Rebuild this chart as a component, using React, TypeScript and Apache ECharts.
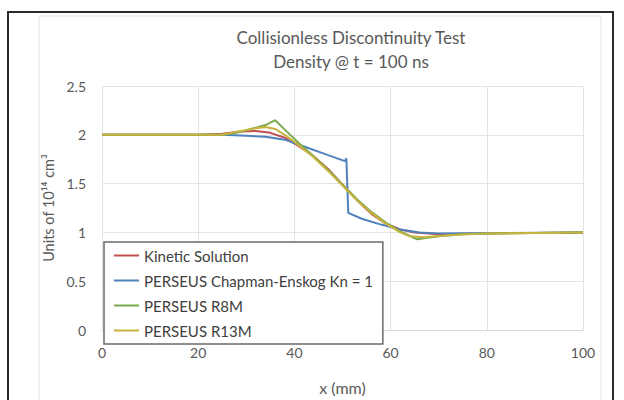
import React, { useEffect, useRef } from "react";
import * as echarts from "echarts";

const titleLines = ["Collisionless Discontinuity Test", "Density @ t = 100 ns"];
const xTitle = "x (mm)";
const yTitle = "Units of 10\u00B9\u2074 cm\u00B3";
const seriesNames = [
  "Kinetic Solution",
  "PERSEUS Chapman-Enskog Kn = 1",
  "PERSEUS R8M",
  "PERSEUS R13M",
];
const seriesColors = ["#C0504D", "#4F81BD", "#7BAA4C", "#C6B43E"];

const kineticX = [0, 20, 25, 28, 32, 35, 38, 41, 44, 47, 50, 53, 56, 59, 62, 65, 70, 80, 100];
const kineticY = [2.0, 2.0, 2.01, 2.03, 2.04, 2.02, 1.97, 1.88, 1.78, 1.65, 1.49, 1.33, 1.19, 1.09, 1.03, 1.0, 0.98, 0.99, 1.0];

const chapmanX = [0, 25, 30, 34, 38, 42, 46, 50.5, 50.8, 51.2, 54, 58, 62, 66, 70, 100];
const chapmanY = [2.0, 2.0, 1.99, 1.98, 1.95, 1.88, 1.81, 1.73, 1.76, 1.2, 1.14, 1.08, 1.03, 1.0, 0.99, 1.0];

const r8mX = [0, 25, 28, 31, 34, 36, 38.5, 41, 44, 47, 50, 53, 56, 59, 62, 65.5, 70, 75, 80, 100];
const r8mY = [2.0, 2.0, 2.02, 2.06, 2.1, 2.15, 2.03, 1.91, 1.78, 1.64, 1.49, 1.34, 1.21, 1.1, 1.01, 0.93, 0.96, 0.98, 0.99, 1.0];

const r13mX = [0, 25, 28, 31, 34, 36, 38, 41, 44, 47, 50, 53, 56, 59, 62, 64, 67, 72, 80, 100];
const r13mY = [2.0, 2.0, 2.03, 2.06, 2.08, 2.06, 2.0, 1.89, 1.77, 1.63, 1.48, 1.33, 1.2, 1.09, 1.0, 0.96, 0.95, 0.97, 0.99, 1.0];

const seriesX = [kineticX, chapmanX, r8mX, r13mX];
const seriesY = [kineticY, chapmanY, r8mY, r13mY];

const FONT = "Lato, 'Open Sans', sans-serif";

export default function App() {
  const ref = useRef<HTMLDivElement>(null);
  useEffect(() => {
    if (!ref.current) return;
    const chart = echarts.init(ref.current, undefined, { renderer: "svg" });
    chart.setOption({
      animation: false,
      backgroundColor: "#ffffff",
      textStyle: { fontFamily: FONT },
      grid: { left: 102, right: 41, top: 86, bottom: 56, containLabel: false },
      xAxis: {
        type: "value",
        min: 0,
        max: 100,
        interval: 20,
        name: xTitle,
        nameLocation: "middle",
        nameGap: 49,
        nameTextStyle: { color: "#595959", fontSize: 16, fontFamily: FONT },
        axisLine: { show: true, lineStyle: { color: "#d9d9d9", width: 1 } },
        axisTick: { show: false },
        axisLabel: { color: "#595959", fontSize: 14, margin: 15, fontFamily: FONT },
        splitLine: { show: true, lineStyle: { color: "#e3e3e3", width: 1 } },
      },
      yAxis: {
        type: "value",
        min: 0,
        max: 2.5,
        interval: 0.5,
        name: yTitle,
        nameLocation: "middle",
        nameGap: 40,
        nameTextStyle: { color: "#595959", fontSize: 14.5, fontFamily: FONT },
        axisLine: { show: false },
        axisTick: { show: false },
        axisLabel: { color: "#595959", fontSize: 14, margin: 16, fontFamily: FONT },
        splitLine: { show: true, lineStyle: { color: "#e3e3e3", width: 1 } },
      },
      legend: {
        orient: "vertical",
        left: 104,
        top: 242,
        data: seriesNames,
        icon: "rect",
        itemWidth: 25,
        itemHeight: 2,
        itemGap: 8,
        itemStyle: { borderWidth: 0 },
        padding: [5, 10, 5, 10],
        borderColor: "#6b6b6b",
        borderWidth: 1.5,
        backgroundColor: "#ffffff",
        textStyle: { color: "#404040", fontSize: 15, lineHeight: 17, fontFamily: FONT },
      },
      graphic: [
        {
          type: "rect",
          silent: true,
          z: -10,
          shape: { x: 39, y: 16, width: 562, height: 400 },
          style: { fill: "none", stroke: "#e4e4e4", lineWidth: 1 },
        },
        {
          type: "rect",
          silent: true,
          z: -10,
          shape: { x: 8, y: 12, width: 605, height: 400 },
          style: { fill: "none", stroke: "#2a2a2a", lineWidth: 2 },
        },
        {
          type: "text",
          x: 351,
          y: 37,
          style: {
            text: titleLines[0],
            fill: "#595959",
            font: `17px ${FONT}`,
            textAlign: "center",
            textVerticalAlign: "middle",
          },
        },
        {
          type: "text",
          x: 351,
          y: 61,
          style: {
            text: titleLines[1],
            fill: "#595959",
            font: `17px ${FONT}`,
            textAlign: "center",
            textVerticalAlign: "middle",
          },
        },
      ],
      series: seriesNames.map((name, i) => ({
        name,
        type: "line",
        symbol: "none",
        smooth: false,
        color: seriesColors[i],
        lineStyle: { color: seriesColors[i], width: 2 },
        data: seriesX[i].map((x, j) => [x, seriesY[i][j]]),
        z: 2 + i,
      })),
    });
    return () => chart.dispose();
  }, []);
  return (
    <div
      ref={ref}
      style={{ position: "fixed", left: 0, top: 0, width: 624, height: 400, background: "#fff" }}
    />
  );
}
